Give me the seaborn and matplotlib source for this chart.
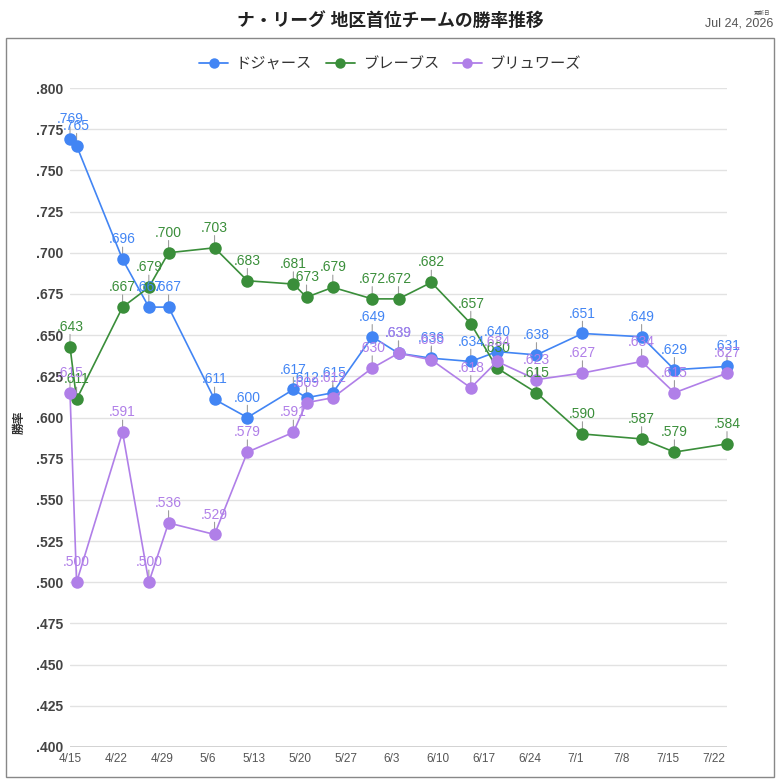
import pandas as pd
import numpy as np
import matplotlib.pyplot as plt
from matplotlib.patches import Rectangle
import seaborn as sns

# data (2026 season)
dates = ["4/15", "4/16", "4/23", "4/27", "4/30", "5/7", "5/12", "5/19", "5/21", "5/25",
         "5/31", "6/4", "6/9", "6/15", "6/19", "6/25", "7/2", "7/11", "7/16", "7/24"]
dodgers = [.769, .765, .696, .667, .667, .611, .600, .617, .612, .615,
           .649, .639, .636, .634, .640, .638, .651, .649, .629, .631]
braves = [.643, .611, .667, .679, .700, .703, .683, .681, .673, .679,
          .672, .672, .682, .657, .630, .615, .590, .587, .579, .584]
brewers = [.615, .500, .591, .500, .536, .529, .579, .591, .609, .612,
           .630, .639, .635, .618, .634, .623, .627, .634, .615, .627]
teams = ["ドジャース", "ブレーブス", "ブリュワーズ"]
colors = ["#4285f4", "#3a8e3a", "#b07fe8"]
tick_labels = ["4/15", "4/22", "4/29", "5/6", "5/13", "5/20", "5/27", "6/3",
               "6/10", "6/17", "6/24", "7/1", "7/8", "7/15", "7/22"]
yticks = [.400, .425, .450, .475, .500, .525, .550, .575, .600,
          .625, .650, .675, .700, .725, .750, .775, .800]

year = 2026
to_date = lambda s: pd.Timestamp(f"{year}/{s}")

df = pd.DataFrame({
    "date": [to_date(d) for d in dates] * 3,
    "pct": dodgers + braves + brewers,
    "team": [t for t in teams for _ in dates],
})

sns.set_style("white")
plt.rcParams["font.family"] = ["Liberation Sans", "Noto Sans CJK JP", "DejaVu Sans"]

fig = plt.figure(figsize=(7.8, 7.8), dpi=100)
ax = fig.add_axes([70 / 780, 33 / 780, 657 / 780, 659 / 780])

palette = dict(zip(teams, colors))
sns.lineplot(data=df, x="date", y="pct", hue="team", hue_order=teams, palette=palette,
             marker="o", markersize=9, markeredgewidth=0, linewidth=1.2,
             ax=ax, legend=False, clip_on=False, zorder=3)

# data labels with little gray stems
for team, vals in zip(teams, [dodgers, braves, brewers]):
    c = palette[team]
    for d, v in zip(dates, vals):
        x = to_date(d)
        ax.annotate("", xy=(x, v), xytext=(0, 8.8), textcoords="offset points",
                    arrowprops=dict(arrowstyle="-", color="#9e9e9e", lw=0.8,
                                    shrinkA=0, shrinkB=0), zorder=2)
        ax.annotate(f"{v:.3f}".lstrip("0"), xy=(x, v), xytext=(0, 11.5),
                    textcoords="offset points", ha="center", va="baseline",
                    fontsize=10, color=c, zorder=5, annotation_clip=False)

ax.set_xlim(to_date("4/15"), to_date("7/24"))
ax.set_xticks([to_date(t) for t in tick_labels])
ax.set_xticklabels(tick_labels, family=["Liberation Sans Narrow", "Liberation Sans"])
ax.set_ylim(.400, .800)
ax.set_yticks(yticks)
ax.set_yticklabels([f"{y:.3f}".lstrip("0") for y in yticks], fontweight="bold")
ax.tick_params(axis="x", labelsize=8.5, colors="#555555", length=0, pad=4)
ax.tick_params(axis="y", labelsize=10, colors="#444444", length=0, pad=5)
ax.grid(axis="y", color="#e2e2e2", linewidth=1)
ax.grid(axis="x", visible=False)
ax.axhline(.400, color="#cccccc", linewidth=1.2, zorder=1)
sns.despine(ax=ax, left=True, bottom=True)
ax.set_xlabel("")
ax.set_ylabel("")

# legend
handles = [plt.Line2D([], [], color=c, marker="o", markersize=7.5, linewidth=1.3,
                      markeredgewidth=0) for c in colors]
fig.legend(handles, teams, loc="center", bbox_to_anchor=(0.5, 1 - 64 / 780), ncol=3,
           frameon=False, fontsize=11, handlelength=1.9, columnspacing=0.9,
           handletextpad=0.5, labelcolor="#333333")

fig.text(0.5, 1 - 21 / 780, "ナ・リーグ 地区首位チームの勝率推移", ha="center", va="center",
         fontsize=12.8, fontweight="bold", color="#222222")
fig.text(762 / 780, 1 - 13 / 780, "更新日", ha="center", va="center", fontsize=4,
         color="#555555")
fig.text(773 / 780, 1 - 23 / 780, "Jul 24, 2026", ha="right", va="center", fontsize=9,
         color="#555555")
fig.text(20 / 780, 1 - 422 / 780, "勝率", ha="center", va="center", rotation=90,
         fontsize=8.5, fontweight="bold", color="#333333")

fig.add_artist(Rectangle((6 / 780, 3 / 780), 768 / 780, 739 / 780, transform=fig.transFigure,
                         fill=False, edgecolor="#888888", linewidth=1))

fig.savefig("out.png", dpi=100)
